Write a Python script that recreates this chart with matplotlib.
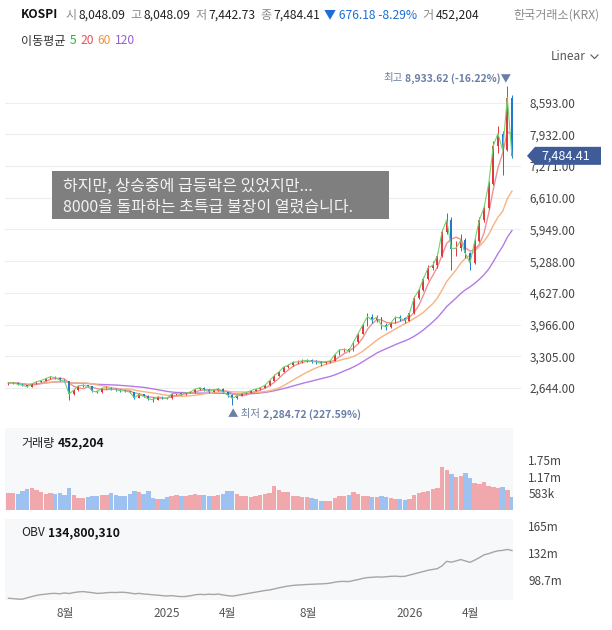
import numpy as np
import pandas as pd
import matplotlib
matplotlib.use("Agg")
import matplotlib.pyplot as plt
import matplotlib.dates as mdates
from matplotlib.patches import Rectangle, Polygon
from matplotlib.lines import Line2D

plt.rcParams['font.family'] = ['Noto Sans CJK KR', 'DejaVu Sans']

# ---- data (weekly bars, week of 2024-05-06 .. 2026-06-01) ----
week_start = '2024-05-08'
first_open = 2730
closes = [2750, 2754, 2720, 2700, 2671, 2730, 2775, 2800, 2840, 2880,
          2860, 2810, 2790, 2520, 2600, 2690, 2700, 2680, 2580, 2560,
          2640, 2650, 2620, 2610, 2590, 2580, 2560, 2440, 2510, 2470,
          2420, 2400, 2460, 2440, 2430, 2520, 2530, 2510, 2540, 2560,
          2620, 2650, 2600, 2570, 2600, 2630, 2560, 2500, 2430, 2480,
          2530, 2550, 2590, 2620, 2650, 2700, 2800, 2900, 2980, 3080,
          3120, 3180, 3190, 3210, 3220, 3200, 3190, 3160, 3190, 3210,
          3340, 3440, 3450, 3420, 3600, 3780, 3960, 4130, 4060, 4120,
          3950, 3920, 4000, 4120, 4100, 4050, 4200, 4520, 4680, 4920,
          5150, 5200, 5400, 5900, 6150, 5550, 5560, 5720, 5450, 5250,
          5700, 6150, 6400, 6900, 7700, 7950, 7600, 8700, 7484.41]
highs = [2760, 2775, 2760, 2730, 2710, 2740, 2790, 2820, 2850, 2896,
         2890, 2870, 2830, 2800, 2620, 2700, 2720, 2710, 2690, 2600,
         2650, 2680, 2660, 2640, 2620, 2610, 2590, 2570, 2530, 2520,
         2490, 2450, 2480, 2480, 2460, 2530, 2550, 2540, 2560, 2580,
         2630, 2670, 2660, 2620, 2620, 2650, 2640, 2570, 2510, 2500,
         2550, 2570, 2600, 2630, 2670, 2720, 2820, 2930, 3000, 3110,
         3150, 3200, 3220, 3250, 3250, 3240, 3220, 3210, 3210, 3230,
         3360, 3460, 3480, 3470, 3620, 3800, 3990, 4200, 4190, 4160,
         4130, 3990, 4030, 4150, 4160, 4120, 4230, 4560, 4720, 4960,
         5200, 5300, 5450, 5950, 6300, 6200, 5700, 5850, 5780, 5480,
         5750, 6200, 6480, 6950, 7800, 8100, 8000, 8933.62, 8750]
lows = [2715, 2730, 2700, 2680, 2660, 2665, 2720, 2765, 2790, 2830,
        2840, 2790, 2760, 2386, 2500, 2590, 2670, 2660, 2560, 2530,
        2550, 2620, 2600, 2590, 2570, 2560, 2540, 2420, 2430, 2450,
        2400, 2360, 2390, 2420, 2410, 2420, 2500, 2490, 2500, 2530,
        2550, 2610, 2580, 2550, 2560, 2590, 2540, 2460, 2284.72, 2420,
        2470, 2520, 2540, 2580, 2610, 2640, 2690, 2790, 2890, 2970,
        3060, 3110, 3150, 3170, 3180, 3170, 3150, 3100, 3140, 3170,
        3200, 3330, 3400, 3390, 3410, 3590, 3770, 3940, 4000, 4030,
        3880, 3850, 3900, 3990, 4050, 4000, 4040, 4190, 4500, 4670,
        4900, 5100, 5150, 5380, 5850, 5100, 5400, 5500, 5350, 5100,
        5230, 5680, 6100, 6380, 6880, 7550, 7080, 7580, 7442.73]
volumes_k = [580, 600, 560, 650, 720, 780, 700, 640, 560, 600,
             560, 590, 540, 760, 520, 420, 430, 450, 500, 480,
             520, 540, 600, 540, 480, 500, 560, 680, 620, 560,
             650, 420, 400, 380, 470, 500, 520, 480, 500, 540,
             560, 520, 540, 500, 480, 520, 560, 650, 680, 560,
             500, 480, 460, 500, 520, 560, 600, 850, 700, 640,
             620, 500, 480, 460, 440, 420, 400, 320, 300, 310,
             420, 480, 500, 520, 640, 560, 500, 480, 460, 450,
             480, 440, 420, 400, 370, 360, 400, 520, 600, 620,
             650, 720, 780, 1500, 1400, 1250, 1150, 1200, 1300, 1100,
             950, 900, 960, 850, 820, 780, 800, 700, 452.204]
obv_m = [76.0, 75.5, 75.0, 74.8, 76.5, 78.0, 79.5, 80.5, 81.0, 81.8,
         82.0, 81.5, 82.5, 81.8, 83.0, 83.8, 84.2, 83.5, 82.8, 82.0,
         82.2, 82.8, 83.2, 83.0, 83.4, 83.2, 82.5, 81.5, 82.0, 81.2,
         80.8, 80.2, 79.8, 79.2, 78.8, 79.2, 78.5, 78.0, 78.2, 79.0,
         80.2, 80.8, 80.5, 81.0, 80.6, 81.2, 80.0, 79.2, 78.6, 79.5,
         80.5, 81.5, 82.5, 83.5, 84.5, 85.5, 86.2, 87.5, 88.8, 90.0,
         91.0, 91.8, 92.3, 92.5, 93.0, 93.2, 93.5, 93.7, 94.0, 94.6,
         95.8, 96.6, 96.8, 96.5, 97.8, 99.0, 100.5, 101.5, 101.8, 102.3,
         102.0, 102.5, 103.0, 103.2, 102.8, 103.0, 104.5, 106.0, 107.5, 109.0,
         110.5, 111.5, 112.5, 116.0, 121.5, 120.5, 122.0, 123.7, 122.0, 120.3,
         123.0, 126.0, 129.5, 131.0, 133.0, 134.5, 135.0, 136.2, 134.8]

# last daily bar shown in the header
last_open, last_high, last_low, last_close = 8048.09, 8048.09, 7442.73, 7484.41
prev_close = 8160.59
last_volume = 452204
last_obv = 134800310

ma_days = [5, 20, 60, 120]
ma_text_colors = ['#2fae3a', '#e8505b', '#f0953a', '#9a5fd0']
ma_line_colors = ['#6fd46f', '#f29090', '#f6b47e', '#b47be6']

price_ticks = [2644, 3305, 3966, 4627, 5288, 5949, 6610, 7271, 7932, 8593]
vol_ticks = [583000, 1166667, 1750000]
vol_tick_labels = ['583k', '1.17m', '1.75m']
obv_ticks = [98.7e6, 132e6, 165e6]
obv_tick_labels = ['98.7m', '132m', '165m']
xtick_dates = ['2024-08-01', '2025-01-01', '2025-04-01', '2025-08-01', '2026-01-01', '2026-04-01']
xtick_labels = ['8월', '2025', '4월', '8월', '2026', '4월']
note_lines = ['하지만, 상승중에 급등락은 있었지만...', '8000을 돌파하는 초특급 불장이 열렸습니다.']

up_color = '#e0383e'
down_color = '#1f78d1'
vol_up = '#f0a0a5'
vol_down = '#93bdf0'
panel_bg = '#f7f8fa'
tick_color = '#444444'
mark_color = '#6b7ea8'

# ---- layout ----
W, H = 612, 630
fig = plt.figure(figsize=(W / 100, H / 100), dpi=100)
fig.patch.set_facecolor('white')


def fx(px):
    return px / W


def fy(py):
    return 1 - py / H


def px_axes(x0, y0, x1, y1):
    return fig.add_axes([x0 / W, 1 - y1 / H, (x1 - x0) / W, (y1 - y0) / H])


day0 = mdates.date2num(pd.Timestamp('2025-01-01'))


def px2num(px):
    return day0 + (px - 167) / 0.666


dates = pd.date_range(week_start, periods=len(closes), freq='7D')
xs = mdates.date2num(dates)
close = np.array(closes, float)
opens = np.r_[first_open, close[:-1]]
up = close >= opens

# main price panel
ax = px_axes(5, 68, 521, 428)
ax.set_xlim(px2num(5), px2num(521))
ax.set_ylim(2644 - 40 * 20.85, 2644 + 320 * 20.85)
for s in ax.spines.values():
    s.set_visible(False)
ax.set_yticks(price_ticks)
ax.set_yticklabels([f'{v:,.2f}' for v in price_ticks])
ax.yaxis.tick_right()
ax.tick_params(axis='y', length=0, pad=6, labelsize=8.5, labelcolor=tick_color)
ax.set_xticks([])
ax.grid(axis='y', color='#eeeeee', lw=0.8)
ax.set_axisbelow(True)

s_close = pd.Series(close)
for d, col in zip(ma_days[::-1], ma_line_colors[::-1]):
    ma = s_close.rolling(max(d // 5, 1), min_periods=1).mean()
    ax.plot(xs, ma, color=col, lw=1.0 if d > 5 else 0.8, zorder=2 if d > 5 else 5)

cc = np.where(up, up_color, down_color)
ax.vlines(xs, lows, highs, colors=cc, lw=0.7, zorder=3)
body = np.maximum(np.abs(close - opens), 12)
ax.bar(xs, body, bottom=np.minimum(opens, close), width=2.8, color=cc, linewidth=0, zorder=4)

# ---- text helpers ----
renderer = fig.canvas.get_renderer()


def text_run(x, y, pieces, size):
    for txt, col, weight, gap in pieces:
        t = fig.text(fx(x), fy(y), txt, color=col, fontsize=size, fontweight=weight,
                     ha='left', va='center')
        x += t.get_window_extent(renderer).width + gap
    return x


def text_run_right(x, y, pieces, size):
    # same pieces, laid out right to left so the run ends at x
    for txt, col, weight, gap in pieces[::-1]:
        x -= gap
        t = fig.text(fx(x), fy(y), txt, color=col, fontsize=size, fontweight=weight,
                     ha='right', va='center')
        x -= t.get_window_extent(renderer).width


# high / low markers
i_hi = int(np.argmax(highs))
i_lo = int(np.argmin(lows))
hi_pct = (last_close - highs[i_hi]) / highs[i_hi] * 100
lo_pct = (last_close - lows[i_lo]) / lows[i_lo] * 100
hx, hy = ax.transData.transform((xs[i_hi], highs[i_hi]))
text_run_right(hx + 4, H - hy - 8,
               [('최고', mark_color, 'normal', 3),
                (f'{highs[i_hi]:,.2f} ({hi_pct:.2f}%)▼', mark_color, 'bold', 0)], 7.5)
lx, ly = ax.transData.transform((xs[i_lo], lows[i_lo]))
text_run(lx - 4, H - ly + 9,
         [('▲ 최저', mark_color, 'normal', 3),
          (f'{lows[i_lo]:,.2f} ({lo_pct:.2f}%)', mark_color, 'bold', 0)], 7.5)

# volume panel
axv = px_axes(5, 428, 513, 510)
axv.set_facecolor(panel_bg)
axv.set_xlim(px2num(5), px2num(513))
axv.set_ylim(0, 82 * 34900)
vol = np.array(volumes_k) * 1000
axv.bar(xs, vol, width=6.6, color=np.where(up, vol_up, vol_down), linewidth=0, alpha=0.9)
axv.set_yticks(vol_ticks)
axv.set_yticklabels(vol_tick_labels)
axv.yaxis.tick_right()
axv.tick_params(axis='y', length=0, pad=11, labelsize=8.5, labelcolor=tick_color)
axv.set_xticks([])
for s in axv.spines.values():
    s.set_visible(False)

# OBV panel
axo = px_axes(5, 519, 513, 600)
axo.set_facecolor(panel_bg)
axo.set_xlim(px2num(5), px2num(513))
axo.set_ylim(98.7e6 - 20 * 1.244e6, 165e6 + 7 * 1.244e6)
axo.plot(xs, np.array(obv_m) * 1e6, color='#a6a6a6', lw=1.0)
axo.set_yticks(obv_ticks)
axo.set_yticklabels(obv_tick_labels)
axo.yaxis.tick_right()
axo.tick_params(axis='y', length=0, pad=11, labelsize=8.5, labelcolor=tick_color)
axo.set_xticks(mdates.date2num(pd.to_datetime(xtick_dates)))
axo.set_xticklabels(xtick_labels)
axo.tick_params(axis='x', length=0, pad=5, labelsize=8.5, labelcolor='#555555')
for s in axo.spines.values():
    s.set_visible(False)

# ---- header texts ----
gray, dark = '#8a8a8a', '#222222'
chg = last_close - prev_close
text_run(21, 15, [('KOSPI', '#111111', 'bold', 7),
                  ('시', gray, 'normal', 2), (f'{last_open:,.2f}', dark, 'normal', 5),
                  ('고', gray, 'normal', 2), (f'{last_high:,.2f}', dark, 'normal', 5),
                  ('저', gray, 'normal', 2), (f'{last_low:,.2f}', dark, 'normal', 5),
                  ('종', gray, 'normal', 2), (f'{last_close:,.2f}', dark, 'normal', 4),
                  (f'▼ {abs(chg):,.2f} {chg / prev_close * 100:.2f}%', '#1d6fd6', 'normal', 5),
                  ('거', gray, 'normal', 2), (f'{last_volume:,}', dark, 'normal', 0)], 8.7)
fig.text(fx(599), fy(15), '한국거래소(KRX)', color='#8a8a8a', fontsize=8.7, ha='right', va='center')

text_run(21, 41, [('이동평균', '#333333', 'normal', 4)] +
         [(str(d), c, 'normal', 4) for d, c in zip(ma_days, ma_text_colors)], 8.7)

fig.text(fx(586), fy(56), 'Linear', color='#555555', fontsize=8.5, ha='right', va='center')
fig.add_artist(Line2D([fx(591), fx(594.5), fx(598)], [fy(55), fy(58.5), fy(55)],
                      color='#666666', lw=0.9))

text_run(21, 443, [('거래량', dark, 'normal', 3), (f'{last_volume:,}', '#111111', 'bold', 0)], 8.7)
text_run(21, 533, [('OBV', dark, 'normal', 3), (f'{last_obv:,}', '#111111', 'bold', 0)], 8.7)

# note box
fig.add_artist(Rectangle((fx(52), fy(219)), fx(389) - fx(52), fy(171) - fy(219),
                         transform=fig.transFigure, facecolor='#7f7f7f', edgecolor='none'))
fig.text(fx(63), fy(186), note_lines[0], color='#f4f4f4', fontsize=11.5, ha='left', va='center')
fig.text(fx(63), fy(207), note_lines[1], color='#f4f4f4', fontsize=11.5, ha='left', va='center')

# last price tag
y_last = ax.transData.transform((0, last_close))[1]
ty = H - y_last
tag = [(527, ty), (535, ty - 9), (601, ty - 9), (601, ty + 9), (535, ty + 9)]
fig.add_artist(Polygon([(fx(a), fy(b)) for a, b in tag], closed=True, transform=fig.transFigure,
                       facecolor='#3f5b98', edgecolor='none'))
fig.text(fx(566), fy(ty), f'{last_close:,.2f}', color='white', fontsize=9, ha='center', va='center')

fig.savefig('out.png', dpi=100)
